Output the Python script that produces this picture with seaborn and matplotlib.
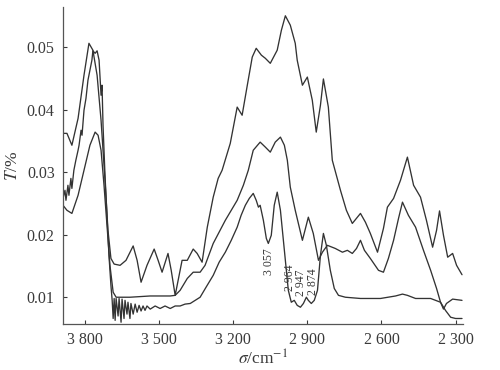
import matplotlib
matplotlib.use("Agg")
import matplotlib.pyplot as plt
import seaborn as sns

# ---------------- IR transmission spectra ----------------
wn_a = [3889, 3873, 3853, 3828, 3804, 3784, 3768, 3751, 3735, 3719, 3707, 3695, 3682,
        3658, 3634, 3605, 3589, 3573, 3549, 3520, 3504, 3488, 3464, 3451, 3435, 3419,
        3407, 3386, 3362, 3346, 3326, 3305, 3281, 3261, 3245, 3212, 3184, 3164, 3143,
        3123, 3107, 3086, 3070, 3050, 3022, 3005, 2989, 2969, 2949, 2941, 2920, 2900,
        2880, 2864, 2847, 2835, 2815, 2799, 2766, 2742, 2718, 2685, 2665, 2645, 2616,
        2592, 2576, 2551, 2523, 2495, 2470, 2442, 2418, 2393, 2377, 2365, 2349, 2332,
        2312, 2296, 2274]
t_a = [0.0362, 0.0362, 0.0343, 0.0386, 0.0455, 0.0506, 0.0495, 0.0455, 0.0383, 0.0287,
       0.0207, 0.0162, 0.0153, 0.0151, 0.0159, 0.0182, 0.0159, 0.0124, 0.0151, 0.0177,
       0.0159, 0.0140, 0.0170, 0.0143, 0.0103, 0.0135, 0.0159, 0.0159, 0.0177, 0.0170,
       0.0156, 0.0212, 0.0260, 0.0290, 0.0303, 0.0346, 0.0404, 0.0391, 0.0439, 0.0484,
       0.0498, 0.0487, 0.0482, 0.0474, 0.0495, 0.0527, 0.0550, 0.0535, 0.0506, 0.0479,
       0.0439, 0.0452, 0.0415, 0.0364, 0.0407, 0.0449, 0.0404, 0.0319, 0.0271, 0.0239,
       0.0218, 0.0234, 0.0220, 0.0202, 0.0172, 0.0210, 0.0244, 0.0258, 0.0287, 0.0324,
       0.0279, 0.0260, 0.0223, 0.0180, 0.0207, 0.0238, 0.0199, 0.0164, 0.0170, 0.0151,
       0.0136]

wn_b = [3889, 3873, 3853, 3828, 3804, 3780, 3759, 3747, 3735, 3723, 3711, 3699, 3686,
        3674, 3618, 3536, 3455, 3435, 3415, 3386, 3362, 3334, 3314, 3281, 3232, 3184,
        3159, 3139, 3119, 3091, 3070, 3050, 3030, 3009, 2993, 2981, 2969, 2949, 2920,
        2896, 2876, 2855, 2839, 2819, 2787, 2758, 2738, 2718, 2701, 2685, 2669, 2645,
        2612, 2592, 2572, 2551, 2531, 2515, 2491, 2462, 2430, 2401, 2377, 2361, 2341,
        2320, 2300, 2274]
t_b = [0.0247, 0.0239, 0.0234, 0.0263, 0.0303, 0.0343, 0.0364, 0.0359, 0.0335, 0.0279,
       0.0215, 0.0151, 0.0108, 0.0100, 0.0100, 0.0102, 0.0102, 0.0103, 0.0111, 0.0130,
       0.0140, 0.0140, 0.0151, 0.0186, 0.0223, 0.0255, 0.0279, 0.0303, 0.0335, 0.0348,
       0.0340, 0.0332, 0.0348, 0.0356, 0.0343, 0.0319, 0.0276, 0.0239, 0.0191, 0.0228,
       0.0202, 0.0159, 0.0172, 0.0183, 0.0178, 0.0172, 0.0175, 0.0170, 0.0178, 0.0191,
       0.0175, 0.0162, 0.0143, 0.0140, 0.0162, 0.0191, 0.0226, 0.0252, 0.0231, 0.0212,
       0.0175, 0.0143, 0.0114, 0.0092, 0.0079, 0.0068, 0.0066, 0.0066]

wn_c = [3889, 3881, 3877, 3869, 3865, 3857, 3853, 3845, 3837, 3828, 3824, 3816, 3812,
        3804, 3796, 3788, 3780, 3772, 3768, 3759, 3751, 3743, 3735, 3731, 3727, 3719,
        3711, 3703, 3695, 3690, 3686, 3682, 3678, 3674, 3666, 3662, 3654, 3650, 3642,
        3638, 3630, 3626, 3618, 3614, 3605, 3597, 3589, 3581, 3573, 3565, 3557, 3549,
        3536, 3516, 3496, 3476, 3455, 3435, 3415, 3395, 3374, 3354, 3334, 3310, 3281,
        3257, 3232, 3208, 3184, 3168, 3151, 3135, 3119, 3107, 3098, 3091, 3078, 3066,
        3058, 3046, 3034, 3022, 3009, 2997, 2985, 2977, 2965, 2953, 2941, 2928, 2916,
        2904, 2896, 2884, 2872, 2859, 2847, 2835, 2823, 2807, 2791, 2774, 2746, 2685,
        2604, 2543, 2515, 2495, 2462, 2401, 2361, 2349, 2337, 2312, 2274]
t_c = [0.0258, 0.0271, 0.0255, 0.0279, 0.0263, 0.0290, 0.0274, 0.0303, 0.0319, 0.0335,
       0.0343, 0.0367, 0.0359, 0.0399, 0.0418, 0.0447, 0.0463, 0.0479, 0.0494, 0.0490,
       0.0494, 0.0479, 0.0423, 0.0439, 0.0375, 0.0295, 0.0231, 0.0167, 0.0119, 0.0095,
       0.0066, 0.0098, 0.0063, 0.0098, 0.0070, 0.0098, 0.0060, 0.0097, 0.0066, 0.0095,
       0.0073, 0.0092, 0.0066, 0.0090, 0.0073, 0.0089, 0.0076, 0.0087, 0.0078, 0.0086,
       0.0079, 0.0086, 0.0081, 0.0086, 0.0082, 0.0086, 0.0082, 0.0086, 0.0086, 0.0089,
       0.0090, 0.0095, 0.0100, 0.0116, 0.0135, 0.0156, 0.0172, 0.0191, 0.0212, 0.0231,
       0.0247, 0.0258, 0.0266, 0.0255, 0.0244, 0.0247, 0.0223, 0.0194, 0.0186, 0.0199,
       0.0247, 0.0268, 0.0239, 0.0191, 0.0143, 0.0111, 0.0092, 0.0095, 0.0087, 0.0084,
       0.0090, 0.0100, 0.0095, 0.0090, 0.0095, 0.0111, 0.0167, 0.0202, 0.0183, 0.0143,
       0.0114, 0.0103, 0.0100, 0.0098, 0.0098, 0.0102, 0.0105, 0.0103, 0.0098, 0.0098,
       0.0092, 0.0081, 0.0090, 0.0097, 0.0095]

peak_labels = ["3 057", "2 964", "2 947", "2 874"]
peak_x = [3054, 2969, 2926, 2876]
peak_y = [0.0157, 0.0131, 0.0123, 0.0125]

xticks = [3800, 3500, 3200, 2900, 2600, 2300]
xtick_labels = ["3 800", "3 500", "3 200", "2 900", "2 600", "2 300"]
yticks = [0.01, 0.02, 0.03, 0.04, 0.05]
ytick_labels = ["0.01", "0.02", "0.03", "0.04", "0.05"]

# ---------------- Style ----------------
sns.set_style("ticks")
plt.rcParams["font.family"] = ["Liberation Serif", "DejaVu Serif"]
plt.rcParams["mathtext.fontset"] = "stix"

line_color = "#333333"
text_color = "#3a3a3a"

fig = plt.figure(figsize=(5, 3.7), dpi=100)
ax = fig.add_axes([0.126, 0.124, 0.8, 0.857])

for wn, t in [(wn_a, t_a), (wn_b, t_b), (wn_c, t_c)]:
    sns.lineplot(x=wn, y=t, sort=False, color=line_color, lw=0.95, ax=ax)

for lab, px, py in zip(peak_labels, peak_x, peak_y):
    ax.text(px, py, lab, rotation=90, ha="center", va="center",
            fontsize=8.5, color=text_color)

ax.set_xlim(3889, 2270)
ax.set_ylim(0.0057, 0.0564)
ax.set_xticks(xticks)
ax.set_xticklabels(xtick_labels)
ax.set_yticks(yticks)
ax.set_yticklabels(ytick_labels)
ax.tick_params(direction="in", length=3, width=0.8, labelsize=11.5,
               colors=text_color, pad=6)

sns.despine(ax=ax)
for side in ["left", "bottom"]:
    ax.spines[side].set_color("#555555")
    ax.spines[side].set_linewidth(0.9)

ax.set_xlabel(r"$\sigma$/cm$^{-1}$", fontsize=12.5, color=text_color, labelpad=1)
ax.set_ylabel(r"$T$/%", fontsize=12.5, color=text_color, labelpad=4)

fig.savefig("out.png", dpi=100)
plt.close(fig)
